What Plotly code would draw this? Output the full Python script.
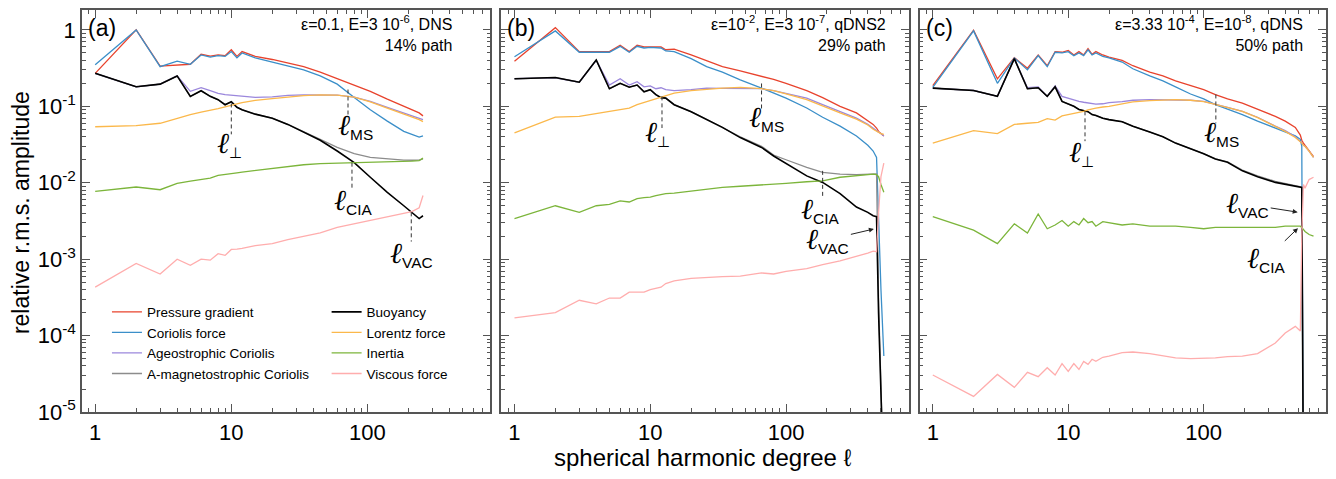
import math
import plotly.graph_objects as go

# spherical harmonic degree sampled in each panel
L_a = [1, 2, 3, 4, 5, 6, 7, 8, 9, 10, 11, 12, 15, 20, 26, 34, 45, 60, 80, 105, 140, 185, 212, 240, 256]
L_b = [1, 2, 3, 4, 5, 6, 7, 8, 9, 10, 11, 12, 13, 15, 20, 26, 34, 46, 66, 81, 100, 142, 186, 250, 330, 400, 438, 464, 480, 500, 525]
L_c = [1, 2, 3, 4, 5, 6, 7, 8, 9, 10, 11, 12, 13, 14, 15, 16, 18, 20, 25, 30, 40, 50, 62, 80, 100, 122, 150, 193, 250, 338, 400, 475, 517, 530, 545, 560, 600, 647]

# (a) eps=0.1, DNS
pres_a = [0.27, 1.0, 0.335, 0.35, 0.355, 0.48, 0.455, 0.47, 0.46, 0.55, 0.45, 0.52, 0.45, 0.41, 0.37, 0.33, 0.28, 0.23, 0.19, 0.157, 0.124, 0.1, 0.092, 0.082, 0.075]
cor_a = [0.35, 1.0, 0.33, 0.39, 0.355, 0.47, 0.44, 0.46, 0.45, 0.52, 0.43, 0.5, 0.43, 0.38, 0.34, 0.3, 0.25, 0.195, 0.13, 0.09, 0.064, 0.047, 0.043, 0.0395, 0.041]
ageo_a = [0.27, 0.18, 0.195, 0.25, 0.157, 0.175, 0.16, 0.148, 0.142, 0.14, 0.138, 0.135, 0.131, 0.133, 0.139, 0.141, 0.142, 0.14, 0.132, 0.116, 0.097, 0.082, 0.076, 0.07, 0.067]
amag_a = [0.27, 0.18, 0.195, 0.25, 0.135, 0.16, 0.135, 0.122, 0.105, 0.115, 0.097, 0.09, 0.079, 0.07, 0.058, 0.046, 0.037, 0.029, 0.024, 0.0215, 0.0204, 0.0198, 0.0197, 0.0198, 0.0205]
buoy_a = [0.27, 0.18, 0.195, 0.25, 0.135, 0.16, 0.135, 0.122, 0.105, 0.115, 0.097, 0.09, 0.079, 0.07, 0.058, 0.046, 0.036, 0.026, 0.0183, 0.0118, 0.0075, 0.005, 0.0041, 0.0034, 0.0037]
lor_a = [0.054, 0.056, 0.06, 0.07, 0.078, 0.084, 0.088, 0.093, 0.098, 0.104, 0.108, 0.112, 0.12, 0.126, 0.133, 0.138, 0.141, 0.14, 0.132, 0.114, 0.095, 0.08, 0.073, 0.067, 0.063]
inert_a = [0.0077, 0.0088, 0.0081, 0.0098, 0.0105, 0.011, 0.0115, 0.0125, 0.0128, 0.013, 0.0135, 0.0138, 0.0145, 0.0155, 0.0165, 0.0172, 0.0178, 0.018, 0.0183, 0.0185, 0.0188, 0.019, 0.0192, 0.0195, 0.021]
visc_a = [0.00043, 0.00088, 0.00064, 0.001, 0.00083, 0.001, 0.00097, 0.00118, 0.00112, 0.00134, 0.00135, 0.00138, 0.0015, 0.0016, 0.0018, 0.002, 0.0022, 0.0026, 0.0029, 0.0032, 0.0036, 0.004, 0.0042, 0.0047, 0.0068]

# (b) eps=1e-2, qDNS2
pres_b = [0.39, 1.07, 0.52, 0.52, 0.52, 0.63, 0.52, 0.63, 0.6, 0.6, 0.6, 0.6, 0.55, 0.56, 0.47, 0.39, 0.33, 0.29, 0.25, 0.225, 0.2, 0.16, 0.13, 0.1, 0.082, 0.065, 0.058, 0.052, 0.047, 0.044, 0.041]
cor_b = [0.446, 0.97, 0.51, 0.51, 0.51, 0.61, 0.51, 0.61, 0.58, 0.59, 0.58, 0.58, 0.53, 0.52, 0.42, 0.33, 0.28, 0.222, 0.173, 0.149, 0.128, 0.095, 0.072, 0.055, 0.041, 0.031, 0.026, 0.0214, 0.003, 0.0004, 5.4e-5]
ageo_b = [0.23, 0.235, 0.207, 0.4, 0.19, 0.23, 0.19, 0.21, 0.18, 0.185, 0.17, 0.175, 0.165, 0.16, 0.165, 0.173, 0.172, 0.172, 0.17, 0.16, 0.148, 0.128, 0.105, 0.086, 0.07, 0.058, 0.051, 0.048, 0.046, 0.044, 0.041]
amag_b = [0.229, 0.238, 0.207, 0.404, 0.17, 0.2, 0.178, 0.19, 0.155, 0.165, 0.142, 0.13, 0.128, 0.105, 0.085, 0.067, 0.053, 0.04, 0.03, 0.023, 0.02, 0.0159, 0.0137, 0.013, 0.0128, 0.013, 0.013, 0.013, 0.0003, 5e-6, 1e-6]
buoy_b = [0.229, 0.238, 0.207, 0.404, 0.17, 0.2, 0.178, 0.19, 0.155, 0.165, 0.142, 0.13, 0.128, 0.105, 0.085, 0.067, 0.053, 0.039, 0.029, 0.0224, 0.018, 0.0123, 0.0101, 0.0072, 0.0048, 0.0041, 0.0037, 0.0036, 0.0002, 5e-6, 1e-6]
lor_b = [0.045, 0.072, 0.074, 0.08, 0.086, 0.09, 0.095, 0.105, 0.112, 0.118, 0.124, 0.13, 0.138, 0.149, 0.16, 0.168, 0.173, 0.177, 0.17, 0.16, 0.146, 0.122, 0.1, 0.082, 0.068, 0.057, 0.05, 0.047, 0.046, 0.044, 0.043]
inert_b = [0.0034, 0.005, 0.0041, 0.005, 0.0052, 0.0058, 0.0056, 0.0062, 0.0064, 0.0065, 0.0068, 0.007, 0.0072, 0.0073, 0.0078, 0.0083, 0.0087, 0.009, 0.0093, 0.0095, 0.0098, 0.0103, 0.0106, 0.0118, 0.0125, 0.0128, 0.013, 0.0128, 0.012, 0.0095, 0.0075]
visc_b = [0.00017, 0.0002, 0.00029, 0.00026, 0.00031, 0.00031, 0.00037, 0.00037, 0.00037, 0.0004, 0.00042, 0.00043, 0.00048, 0.00052, 0.00056, 0.00058, 0.00059, 0.0006, 0.00066, 0.00064, 0.00069, 0.00075, 0.00085, 0.00095, 0.00108, 0.0012, 0.00127, 0.00125, 0.004, 0.012, 0.018]

# (c) eps=3.33e-4, qDNS
pres_c = [0.186, 0.99, 0.229, 0.433, 0.315, 0.47, 0.34, 0.52, 0.51, 0.54, 0.47, 0.52, 0.47, 0.57, 0.48, 0.52, 0.47, 0.44, 0.4, 0.34, 0.28, 0.25, 0.215, 0.185, 0.165, 0.142, 0.125, 0.11, 0.092, 0.074, 0.064, 0.053, 0.042, 0.036, 0.033, 0.031, 0.027, 0.022]
cor_c = [0.177, 0.97, 0.2, 0.43, 0.3, 0.46, 0.33, 0.51, 0.5, 0.52, 0.46, 0.5, 0.46, 0.55, 0.47, 0.5, 0.45, 0.43, 0.38, 0.31, 0.25, 0.215, 0.18, 0.145, 0.125, 0.105, 0.092, 0.078, 0.064, 0.052, 0.046, 0.041, 0.037, 0.03, 1e-6, None, None, None]
ageo_c = [0.173, 0.161, 0.135, 0.42, 0.175, 0.18, 0.135, 0.185, 0.135, 0.128, 0.12, 0.116, 0.113, 0.11, 0.108, 0.107, 0.108, 0.112, 0.115, 0.12, 0.122, 0.122, 0.122, 0.12, 0.116, 0.107, 0.097, 0.086, 0.072, 0.055, 0.048, 0.04, 0.035, 0.033, 0.031, 0.03, 0.026, 0.0214]
amag_c = [0.173, 0.161, 0.135, 0.42, 0.17, 0.175, 0.135, 0.18, 0.116, 0.107, 0.1, 0.091, 0.087, 0.085, 0.078, 0.076, 0.07, 0.067, 0.063, 0.055, 0.046, 0.04, 0.033, 0.028, 0.024, 0.0205, 0.0187, 0.0146, 0.0123, 0.0104, 0.0097, 0.0091, 0.0089, 0.0088, 1e-6, None, None, None]
buoy_c = [0.173, 0.161, 0.135, 0.42, 0.17, 0.175, 0.135, 0.18, 0.116, 0.107, 0.1, 0.091, 0.087, 0.085, 0.078, 0.076, 0.07, 0.067, 0.063, 0.055, 0.046, 0.04, 0.033, 0.028, 0.024, 0.0205, 0.0185, 0.0143, 0.012, 0.0101, 0.0095, 0.0089, 0.0087, 0.0087, 1e-6, None, None, None]
lor_c = [0.033, 0.048, 0.044, 0.058, 0.06, 0.0615, 0.069, 0.066, 0.075, 0.078, 0.08, 0.082, 0.086, 0.09, 0.093, 0.095, 0.098, 0.1, 0.108, 0.114, 0.119, 0.121, 0.122, 0.12, 0.115, 0.106, 0.097, 0.086, 0.071, 0.055, 0.047, 0.039, 0.035, 0.033, 0.031, 0.03, 0.026, 0.0214]
inert_c = [0.0036, 0.0024, 0.0016, 0.0029, 0.0022, 0.0039, 0.0025, 0.0028, 0.0032, 0.0027, 0.0031, 0.0028, 0.0034, 0.003, 0.0031, 0.0027, 0.0031, 0.003, 0.0028, 0.0029, 0.0027, 0.0027, 0.0027, 0.0026, 0.0025, 0.0026, 0.0026, 0.0026, 0.0026, 0.0026, 0.0027, 0.0027, 0.0027, 0.0026, 0.0024, 0.0023, 0.0021, 0.002]
visc_c = [3.05e-5, 1.6e-5, 3.1e-5, 2.1e-5, 3.3e-5, 2.9e-5, 3.8e-5, 3.05e-5, 4.3e-5, 3.4e-5, 4.3e-5, 3.6e-5, 4.6e-5, 4.2e-5, 4.9e-5, 4.6e-5, 5.2e-5, 5.4e-5, 6.0e-5, 6.1e-5, 5.8e-5, 5.4e-5, 5.1e-5, 5.0e-5, 5.0e-5, 5.1e-5, 5.3e-5, 5.4e-5, 5.8e-5, 8.0e-5, 1.08e-4, 1.32e-4, 1.15e-4, 0.002, 0.0095, 0.0085, 0.011, 0.0118]

names = ["Pressure gradient", "Coriolis force", "Ageostrophic Coriolis", "A-magnetostrophic Coriolis",
         "Buoyancy", "Lorentz force", "Inertia", "Viscous force"]
colors = ["#e8432d", "#3b8fc9", "#9b87dc", "#8c8c8c", "#000000", "#fbb84b", "#7cb53b", "#ffadad"]
widths = [1.3, 1.3, 1.3, 1.3, 1.6, 1.3, 1.3, 1.3]

panel_data = [
    (L_a, [pres_a, cor_a, ageo_a, amag_a, buoy_a, lor_a, inert_a, visc_a]),
    (L_b, [pres_b, cor_b, ageo_b, amag_b, buoy_b, lor_b, inert_b, visc_b]),
    (L_c, [pres_c, cor_c, ageo_c, amag_c, buoy_c, lor_c, inert_c, visc_c]),
]

panel_tags = ["(a)", "(b)", "(c)"]
panel_info = ["ε=0.1, E=3 10<sup>-6</sup>, DNS<br>14% path",
              "ε=10<sup>-2</sup>, E=3 10<sup>-7</sup>, qDNS2<br>29% path",
              "ε=3.33 10<sup>-4</sup>, E=10<sup>-8</sup>, qDNS<br>50% path"]

# dashed markers: panel, ell, top, bottom, subscript, label value, label xshift
markers = [
    (0, 10, 0.109, 0.043, "⊥", 0.0321, -2),
    (0, 72, 0.166, 0.070, "MS", 0.055, 7),
    (0, 77, 0.0183, 0.0086, "CIA", 0.0058, 1),
    (0, 210, 0.0041, 0.0017, "VAC", 0.00118, 0),
    (1, 12.2, 0.135, 0.052, "⊥", 0.0446, -4),
    (1, 66, 0.199, 0.086, "MS", 0.0697, 5),
    (1, 186, 0.0143, 0.0064, "CIA", 0.00434, -3),
    (2, 13.3, 0.086, 0.035, "⊥", 0.0245, -4),
    (2, 123, 0.143, 0.060, "MS", 0.0446, 6),
]
# arrowed labels: panel, ell, value at tip, subscript, tail offset in px
arrows = [
    (1, 451, 0.0025, "VAC", -47, 11),
    (2, 503, 0.0041, "VAC", -51, -8),
    (2, 503, 0.0026, "CIA", -33, 32),
]

# the page body adds an 8 px margin, so the figure is 16 px smaller than the window
OFF = 8
W, H = 1336 - 2 * OFF, 479 - 2 * OFF
ML, MR, MT, MB = 82 - OFF, 0, 0, 479 - OFF - 412
PW, PH = W - ML - MR, H - MT - MB


def px_x(px):
    # window pixel -> paper x
    return (px - OFF - ML) / PW


def px_y(py):
    # window pixel -> paper y
    return (H - MB - (py - OFF)) / PH


domains = [[px_x(82), px_x(491)], [px_x(502), px_x(910)], [px_x(921), 1.0]]
info_right = [455, 889, 1307]
tag_left = [86, 506, 925]


def ell_label(sub):
    return ("<span style='font-size:29px;font-family:Liberation Serif;font-style:italic'>ℓ</span>"
            "<sub>%s</sub>" % sub)


fig = go.Figure()
for i, (L, series) in enumerate(panel_data):
    xa = "x" if i == 0 else "x%d" % (i + 1)
    ya = "y" if i == 0 else "y%d" % (i + 1)
    for j in range(8):
        fig.add_trace(go.Scatter(
            x=L, y=series[j], mode="lines", name=names[j],
            line=dict(color=colors[j], width=widths[j]),
            xaxis=xa, yaxis=ya, showlegend=(i == 0),
            legend="legend" if j < 4 else "legend2", hoverinfo="skip"))

annotations = []
for p, ell, top, bot, sub, lv, xs in markers:
    xa = "x" if p == 0 else "x%d" % (p + 1)
    ya = "y" if p == 0 else "y%d" % (p + 1)
    fig.add_trace(go.Scatter(x=[ell, ell], y=[top, bot], mode="lines", showlegend=False,
                             line=dict(color="#333333", width=1, dash="4px,3px"),
                             xaxis=xa, yaxis=ya, hoverinfo="skip"))
    annotations.append(dict(x=math.log10(ell), y=math.log10(lv), xref=xa, yref=ya,
                            text=ell_label(sub), showarrow=False, xshift=xs,
                            font=dict(size=22, color="black")))

for p, ell, v, sub, ax, ay in arrows:
    xa = "x%d" % (p + 1)
    ya = "y%d" % (p + 1)
    annotations.append(dict(x=math.log10(ell), y=math.log10(v), xref=xa, yref=ya,
                            text=ell_label(sub), showarrow=True, ax=ax, ay=ay,
                            arrowhead=2, arrowsize=1, arrowwidth=1, arrowcolor="#222",
                            standoff=1, font=dict(size=22, color="black")))

for i in range(3):
    annotations.append(dict(x=px_x(tag_left[i]), y=px_y(26), xref="paper", yref="paper",
                            xanchor="left", yanchor="middle", text=panel_tags[i],
                            showarrow=False, font=dict(size=23, color="black")))
    annotations.append(dict(x=px_x(info_right[i]), y=px_y(9), xref="paper", yref="paper",
                            xanchor="right", yanchor="top", align="right", text=panel_info[i],
                            showarrow=False, font=dict(size=16, color="black")))

annotations.append(dict(x=px_x(21), y=px_y(212), xref="paper", yref="paper",
                        xanchor="center", yanchor="middle", textangle=-90,
                        text="relative r.m.s. amplitude", showarrow=False,
                        font=dict(size=23, color="black")))
annotations.append(dict(x=px_x(703), y=px_y(458), xref="paper", yref="paper",
                        xanchor="center", yanchor="middle",
                        text="spherical harmonic degree ℓ", showarrow=False,
                        font=dict(size=24, color="black")))

x_minor = [m * 10 ** k for k in range(-1, 3) for m in range(2, 10) if 0.8 <= m * 10 ** k <= 800]
y_minor = [m * 10.0 ** k for k in range(-5, 1) for m in range(2, 10) if m * 10.0 ** k <= 2]

frame = dict(type="log", showline=True, linecolor="#555555", linewidth=1.5, mirror="allticks",
             ticks="inside", ticklen=8, tickwidth=1.2, tickcolor="#555555", showgrid=False,
             zeroline=False, tickfont=dict(size=22, color="black"))

y_top = (28 - 8) / 76.8  # decades above 1 at the top of the frame

layout = dict(width=W, height=H, margin=dict(l=ML, r=MR, t=MT, b=MB),
              paper_bgcolor="white", plot_bgcolor="white",
              font=dict(family="Liberation Sans, Arial, sans-serif", color="black"),
              annotations=annotations,
              legend=dict(x=px_x(107), y=px_y(296), xanchor="left", yanchor="top",
                          bgcolor="rgba(0,0,0,0)", font=dict(size=13.5), tracegroupgap=0),
              legend2=dict(x=px_x(327), y=px_y(296), xanchor="left", yanchor="top",
                           bgcolor="rgba(0,0,0,0)", font=dict(size=13.5), tracegroupgap=0))

for i in range(3):
    xk = "xaxis" if i == 0 else "xaxis%d" % (i + 1)
    yk = "yaxis" if i == 0 else "yaxis%d" % (i + 1)
    layout[xk] = dict(frame, domain=domains[i], range=[math.log10(0.8), math.log10(800)],
                      tickvals=[1, 10, 100], ticktext=["1", "10", "100"],
                      anchor="y" if i == 0 else "y%d" % (i + 1),
                      minor=dict(tickvals=x_minor, ticks="inside", ticklen=4, tickcolor="#555555"))
    layout[yk] = dict(frame, domain=[0, 1], range=[-5, y_top],
                      tickvals=[1e-5, 1e-4, 1e-3, 1e-2, 1e-1, 1],
                      ticktext=["10<sup>-5</sup>", "10<sup>-4</sup>", "10<sup>-3</sup>",
                                "10<sup>-2</sup>", "10<sup>-1</sup>", "1"],
                      showticklabels=(i == 0),
                      anchor="x" if i == 0 else "x%d" % (i + 1),
                      minor=dict(tickvals=y_minor, ticks="inside", ticklen=4, tickcolor="#555555"))

fig.update_layout(**layout)
fig.write_html("out.html")
